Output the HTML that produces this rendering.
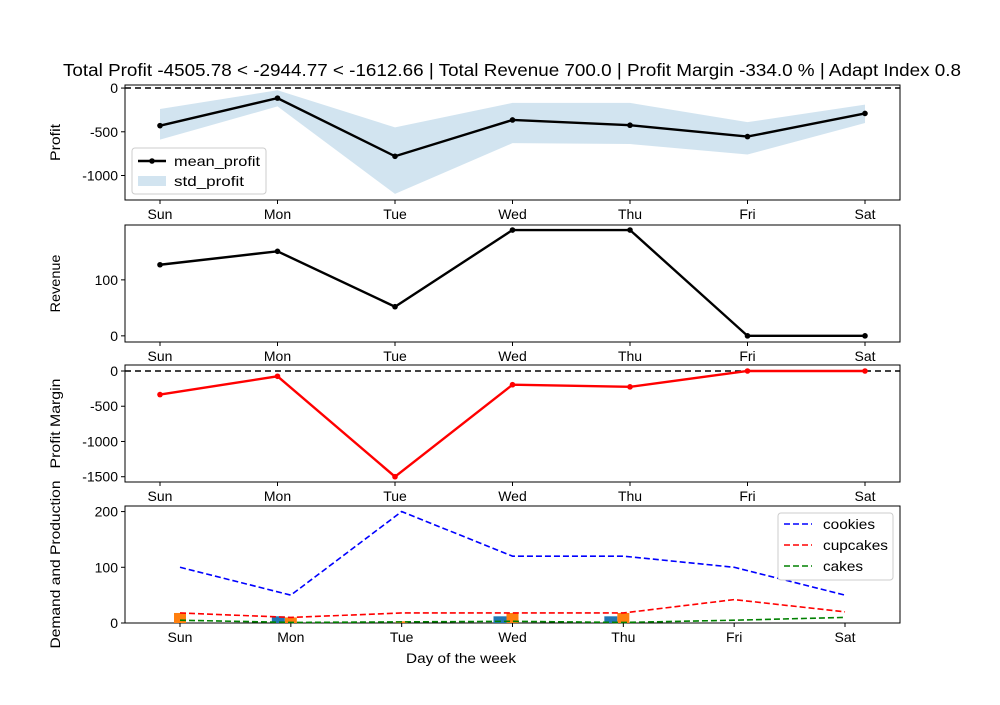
<!DOCTYPE html>
<html><head><meta charset="utf-8"><style>
body{margin:0;background:#fff}
svg text{font-family:"Liberation Sans","DejaVu Sans",sans-serif;fill:#000}
</style></head><body>
<svg id="c" width="1000" height="700" xmlns="http://www.w3.org/2000/svg">
<text x="512" y="76" font-size="17.5" text-anchor="middle" textLength="898" lengthAdjust="spacingAndGlyphs">Total Profit -4505.78 &lt; -2944.77 &lt; -1612.66 | Total Revenue 700.0 | Profit Margin -334.0 % | Adapt Index 0.8</text>
<text x="461" y="663" font-size="14" text-anchor="middle" textLength="110" lengthAdjust="spacingAndGlyphs">Day of the week</text>
</svg>
<script>
const days=["Sun","Mon","Tue","Wed","Thu","Fri","Sat"];
const meanProfit=[-430,-115,-780,-365,-425,-555,-290];
const stdUpper=[-240,-25,-450,-170,-170,-390,-190];
const stdLower=[-590,-210,-1210,-630,-640,-760,-400];
const revenue=[127,151,52,189,189,0,0];
const margin=[-335,-75,-1500,-195,-225,0,0];
const cookies=[100,50,200,120,120,100,50];
const cupcakes=[18,10,18,18,18,42,20];
const cakes=[5,1,2,3,1,5,10];
const barBlue=[0,12,0,12,12,0,0];
const barOrange=[18,10,3,18,18,0,0];
const profitTicks=[0,-500,-1000];
const revTicks=[0,100];
const marginTicks=[0,-500,-1000,-1500];
const prodTicks=[0,100,200];

const svg=document.getElementById('c');const NS="http://www.w3.org/2000/svg";
function mk(t,a,p){const e=document.createElementNS(NS,t);for(const k in a)e.setAttribute(k,a[k]);(p||svg).appendChild(e);return e;}
const L=125,R=900;
function panel(name,top,bot,ymax,ymin,x0,x1,ticks,ylabel,ylen){
  const g=mk('g',{});
  
  
  const y=v=>bot-(v-ymin)/(ymax-ymin)*(bot-top);
  const x=i=>x0+i*(x1-x0)/6;
  const r=mk('rect',{x:L,y:top,width:R-L,height:bot-top,fill:'none',stroke:'#000','stroke-width':1},g);
  
  
  ticks.forEach(v=>{mk('line',{x1:L-4,x2:L,y1:y(v),y2:y(v),stroke:'#000'},g);
    const t=mk('text',{x:L-7,y:y(v)+5,'font-size':14,'text-anchor':'end'},g);t.textContent=v;
    
    });
  days.forEach((d,i)=>{mk('line',{x1:x(i),x2:x(i),y1:bot,y2:bot+4,stroke:'#000'},g);
    const t=mk('text',{x:x(i),y:bot+19,'font-size':14,'text-anchor':'middle'},g);t.textContent=d;
    
    });
  const yl=mk('text',{x:0,y:0,'font-size':14,'text-anchor':'middle',textLength:ylen,lengthAdjust:'spacingAndGlyphs',transform:`translate(60,${(top+bot)/2}) rotate(-90)`},g);yl.textContent=ylabel;
  
  
  return {g,x,y};
}
function line(p,vals,attrs,dots){
  const pl=mk('polyline',Object.assign({points:vals.map((v,i)=>p.x(i)+','+p.y(v)).join(' '),fill:'none'},attrs),p.g);
  
  
  if(dots)vals.forEach((v,i)=>{const c=mk('circle',{cx:p.x(i),cy:p.y(v),r:2.8,fill:attrs.stroke},p.g);
    
    });
}
// panel 1
const p1=panel('profit-panel',85,200,35,-1280,160,865,profitTicks,'Profit',37);
const band=mk('polygon',{points:stdUpper.map((v,i)=>p1.x(i)+','+p1.y(v)).concat(stdLower.map((v,i)=>p1.x(i)+','+p1.y(v)).reverse()).join(' '),fill:'#1f77b4','fill-opacity':0.2},p1.g);


mk('line',{x1:L,x2:R,y1:p1.y(0),y2:p1.y(0),stroke:'#000','stroke-width':1.5,'stroke-dasharray':'6,4'},p1.g);
line(p1,meanProfit,{stroke:'#000','stroke-width':2.4},true);
const lg=mk('g',{},p1.g);


mk('rect',{x:132,y:148,width:134,height:46,rx:3,fill:'#fff',stroke:'#ccc'},lg);
mk('line',{x1:138,x2:166,y1:161,y2:161,stroke:'#000','stroke-width':2.4},lg);
mk('circle',{cx:152,cy:161,r:2.8,fill:'#000'},lg);
mk('rect',{x:138,y:176,width:28,height:10,fill:'#1f77b4','fill-opacity':0.2},lg);
let t=mk('text',{x:174,y:166,'font-size':14,textLength:86,lengthAdjust:'spacingAndGlyphs'},lg);t.textContent='mean_profit';


t=mk('text',{x:174,y:186,'font-size':14,textLength:70,lengthAdjust:'spacingAndGlyphs'},lg);t.textContent='std_profit';


// panel 2
const p2=panel('revenue-panel',225,342,198,-11,160,865,revTicks,'Revenue',58);
line(p2,revenue,{stroke:'#000','stroke-width':2.4},true);
// panel 3
const p3=panel('margin-panel',365,482,85,-1575,160,865,marginTicks,'Profit Margin',90);
mk('line',{x1:L,x2:R,y1:p3.y(0),y2:p3.y(0),stroke:'#000','stroke-width':1.5,'stroke-dasharray':'6,4'},p3.g);
line(p3,margin,{stroke:'#f00','stroke-width':2.4},true);
// panel 4
const p4=panel('production-panel',506,623,210,0,180,845,prodTicks,'Demand and Production',168);
barBlue.forEach((v,i)=>{if(v<=0)return;const b=mk('rect',{x:p4.x(i)-19,y:p4.y(v),width:13,height:p4.y(0)-p4.y(v),fill:'#1f77b4'},p4.g);
  
  });
barOrange.forEach((v,i)=>{if(v<=0)return;const b=mk('rect',{x:p4.x(i)-6,y:p4.y(v),width:12,height:p4.y(0)-p4.y(v),fill:'#ff7f0e'},p4.g);
  
  });
line(p4,cookies,{stroke:'#00f','stroke-width':1.6,'stroke-dasharray':'6,3'});
line(p4,cupcakes,{stroke:'#f00','stroke-width':1.6,'stroke-dasharray':'6,3'});
line(p4,cakes,{stroke:'green','stroke-width':1.6,'stroke-dasharray':'6,3'});
const lg2=mk('g',{},p4.g);


mk('rect',{x:778,y:513,width:115,height:67,rx:3,fill:'#fff',stroke:'#ccc'},lg2);
[['cookies','#00f',52],['cupcakes','#f00',65],['cakes','green',40]].forEach((e,k)=>{
  const yy=524+k*21;
  mk('line',{x1:784,x2:812,y1:yy,y2:yy,stroke:e[1],'stroke-width':1.6,'stroke-dasharray':'6,3'},lg2);
  const tt=mk('text',{x:823,y:yy+5,'font-size':14,textLength:e[2],lengthAdjust:'spacingAndGlyphs'},lg2);tt.textContent=e[0];
  
  
});
</script>
</body></html>
